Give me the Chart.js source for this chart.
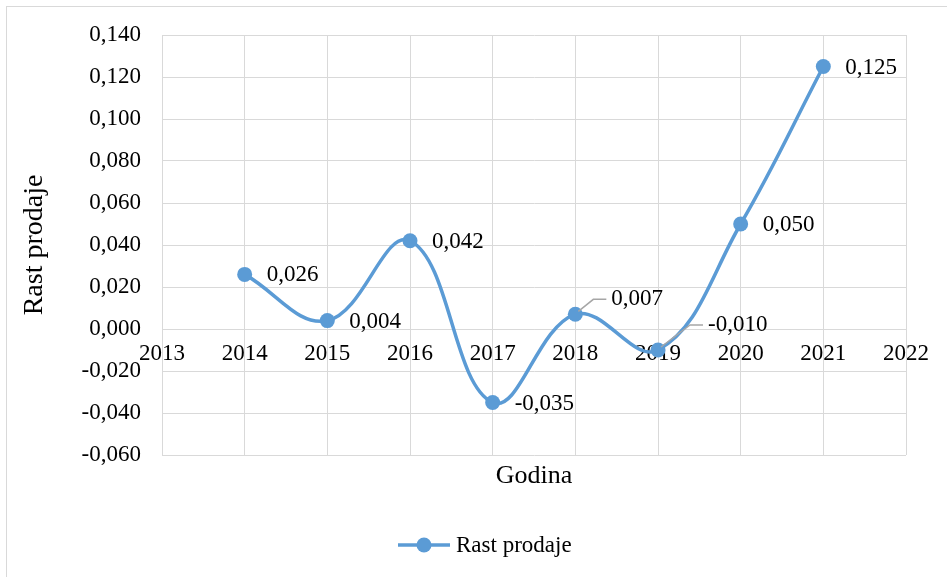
<!DOCTYPE html>
<html>
<head>
<meta charset="utf-8">
<script src="https://cdn.jsdelivr.net/npm/chart.js@4.4.1/dist/chart.umd.min.js"></script>
<style>
  html, body { margin: 0; padding: 0; background: #fff; }
  #wrap { position: relative; width: 947px; height: 577px; }
  #frame { position: absolute; left: 6px; top: 6px; width: 960px; height: 600px; border: 1px solid #d9d9d9; box-sizing: border-box; }
  canvas { position: absolute; left: 0; top: 0; }
</style>
</head>
<body>
<div id="wrap">
  <div id="frame"></div>
  <canvas id="grafik" width="947" height="577"></canvas>
</div>
<script>
// Podaci sa grafika
const godine = [2014, 2015, 2016, 2017, 2018, 2019, 2020, 2021];
const rastProdaje = [0.026, 0.004, 0.042, -0.035, 0.007, -0.010, 0.050, 0.125];
const yMin = -0.06, yMax = 0.14, yKorak = 0.02;
const xMin = 2013, xMax = 2022;

const plava = '#5b9bd5';
const siva = '#d9d9d9';
const font = "'Liberation Serif', 'Times New Roman', serif";

// pomak oznaka u odnosu na tacku (samo za 2018 i 2019 ima linija vodilja)
const pomakOznaka = { 2018: [36, -15], 2019: [50, -25] };

function formatBroj(v) {
    return (Math.round(v * 1000) / 1000).toFixed(3).replace('.', ',');
}

// plugin za oznake vrijednosti, naslov x ose i legendu
const oznake = {
    id: 'oznake',
    afterDatasetsDraw(chart) {
        const ctx = chart.ctx;
        const meta = chart.getDatasetMeta(0);
        ctx.save();
        ctx.font = '23px ' + font;
        ctx.fillStyle = '#000';
        ctx.textBaseline = 'middle';
        ctx.textAlign = 'left';
        meta.data.forEach((p, i) => {
            const g = godine[i];
            const pom = pomakOznaka[g];
            if (pom) {
                ctx.strokeStyle = '#a6a6a6';
                ctx.lineWidth = 1.5;
                ctx.beginPath();
                ctx.moveTo(p.x + 3, p.y - 3);
                ctx.lineTo(p.x + pom[0] - 18, p.y + pom[1]);
                ctx.lineTo(p.x + pom[0] - 5, p.y + pom[1]);
                ctx.stroke();
                ctx.fillText(formatBroj(rastProdaje[i]), p.x + pom[0], p.y + pom[1]);
            } else {
                ctx.fillText(formatBroj(rastProdaje[i]), p.x + 22, p.y + 1);
            }
        });

        // naslov x ose
        const ca = chart.chartArea;
        ctx.font = '26px ' + font;
        ctx.textAlign = 'center';
        ctx.fillText('Godina', (ca.left + ca.right) / 2, ca.bottom + 21);

        // legenda
        const ly = 545, lx = 398;
        ctx.strokeStyle = plava;
        ctx.lineWidth = 3.5;
        ctx.beginPath();
        ctx.moveTo(lx, ly);
        ctx.lineTo(lx + 52, ly);
        ctx.stroke();
        ctx.fillStyle = plava;
        ctx.beginPath();
        ctx.arc(lx + 26, ly, 7.5, 0, Math.PI * 2);
        ctx.fill();
        ctx.fillStyle = '#000';
        ctx.font = '23px ' + font;
        ctx.textAlign = 'left';
        ctx.fillText(chart.data.datasets[0].label, lx + 58, ly + 1);
        ctx.restore();
    }
};

const ctx = document.getElementById('grafik').getContext('2d');
const grafik = new Chart(ctx, {
    type: 'line',
    data: {
        datasets: [{
            label: 'Rast prodaje',
            data: godine.map((g, i) => ({ x: g, y: rastProdaje[i] })),
            borderColor: plava,
            backgroundColor: plava,
            borderWidth: 3.5,
            pointRadius: 7.5,
            pointBorderWidth: 0,
            pointHoverRadius: 7.5,
            tension: 0.4,
            fill: false
        }]
    },
    options: {
        responsive: false,
        animation: false,
        events: [],
        layout: { padding: { top: 35, right: 41, bottom: 122, left: 14 } },
        plugins: {
            legend: { display: false },
            tooltip: { enabled: false }
        },
        scales: {
            x: {
                type: 'linear',
                position: { y: 0 },
                min: xMin,
                max: xMax,
                grid: { color: siva, lineWidth: 1, drawTicks: false },
                border: { color: siva, width: 1 },
                ticks: {
                    stepSize: 1,
                    padding: 11,
                    color: '#000',
                    font: { family: font, size: 23 },
                    maxRotation: 0,
                    callback: v => String(v)
                }
            },
            y: {
                min: yMin,
                max: yMax,
                afterFit(scale) { scale.width = 148; },
                grid: { color: siva, lineWidth: 1, drawTicks: false },
                border: { color: siva, width: 1 },
                ticks: {
                    stepSize: yKorak,
                    padding: 21,
                    color: '#000',
                    font: { family: font, size: 23 },
                    callback: v => formatBroj(v)
                },
                title: {
                    display: true,
                    text: 'Rast prodaje',
                    color: '#000',
                    font: { family: font, size: 28 },
                    padding: { top: 4, bottom: 4 }
                }
            }
        }
    },
    plugins: [oznake]
});
</script>
</body>
</html>
